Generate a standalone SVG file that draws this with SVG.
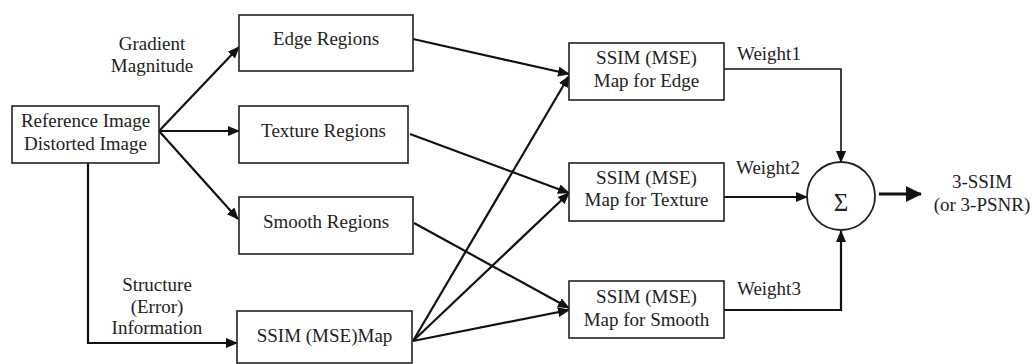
<svg xmlns="http://www.w3.org/2000/svg" width="1032" height="364" viewBox="0 0 1032 364">
<style>
.box{fill:#fff;stroke:#222;stroke-width:1.6}
text{font-family:'Liberation Serif','Times New Roman','DejaVu Serif',serif;font-size:19px;fill:#222}
.t{text-anchor:middle}
.sig{font-size:25px}
.c{fill:none;stroke:#111;stroke-width:2.2}
.cw{fill:none;stroke:#111;stroke-width:1.6}
</style>
<defs>
<marker id="ah" markerUnits="userSpaceOnUse" markerWidth="12" markerHeight="10" refX="11" refY="5" orient="auto">
<path d="M0,0 L12,5 L0,10 z" fill="#111"/>
</marker>
<marker id="big" markerUnits="userSpaceOnUse" markerWidth="16" markerHeight="16" refX="15" refY="8" orient="auto">
<path d="M0,0 L16,8 L0,16 z" fill="#111"/>
</marker>
</defs>
<rect width="1032" height="364" fill="#fff"/>
<g id="connectors">
<path class="c" d="M159,131 L239,47" marker-end="url(#ah)"/>
<path class="c" d="M159,131 L239,131" marker-end="url(#ah)"/>
<path class="c" d="M159,131 L238,219" marker-end="url(#ah)"/>
<path class="c" d="M88,163 L88,343 L237,343" marker-end="url(#ah)"/>
<path class="c" d="M413,39 L569,74" marker-end="url(#ah)"/>
<path class="c" d="M410,134 L569,193" marker-end="url(#ah)"/>
<path class="c" d="M414,223 L569,308" marker-end="url(#ah)"/>
<path class="c" d="M413,341 L569,76" marker-end="url(#ah)"/>
<path class="c" d="M413,341 L569,193" marker-end="url(#ah)"/>
<path class="c" d="M413,341 L569,310" marker-end="url(#ah)"/>
<path class="cw" d="M724,69 L841,69 L841,162" marker-end="url(#ah)"/>
<path class="c" d="M724,197 L807,197" marker-end="url(#ah)"/>
<path class="c" d="M724,310 L841,310 L841,231" marker-end="url(#ah)"/>
<path d="M879,194 L921,194" stroke="#111" stroke-width="3" fill="none" marker-end="url(#big)"/>
</g>
<g id="input">
<rect class="box" x="12" y="106" width="147" height="57"/>
<text class="t" x="85.5" y="127">Reference Image</text>
<text class="t" x="85.5" y="150">Distorted Image</text>
</g>
<g id="label-gradient">
<text class="t" x="152" y="50">Gradient</text>
<text class="t" x="152" y="72">Magnitude</text>
</g>
<g id="label-structure">
<text class="t" x="157" y="291">Structure</text>
<text class="t" x="157" y="313">(Error)</text>
<text class="t" x="157" y="334">Information</text>
</g>
<g id="edge-regions">
<rect class="box" x="239" y="15" width="174" height="56"/>
<text class="t" x="326" y="45">Edge Regions</text>
</g>
<g id="texture-regions">
<rect class="box" x="239" y="106" width="169" height="57"/>
<text class="t" x="323.5" y="137">Texture Regions</text>
</g>
<g id="smooth-regions">
<rect class="box" x="239" y="197" width="174" height="57"/>
<text class="t" x="326" y="228">Smooth Regions</text>
</g>
<g id="ssim-map">
<rect class="box" x="237" y="311" width="175" height="52"/>
<text class="t" x="324.5" y="342">SSIM (MSE)Map</text>
</g>
<g id="map-edge">
<rect class="box" x="569" y="43" width="155" height="57"/>
<text class="t" x="646.5" y="64">SSIM (MSE)</text>
<text class="t" x="646.5" y="87">Map for Edge</text>
</g>
<g id="map-texture">
<rect class="box" x="569" y="163" width="155" height="58"/>
<text class="t" x="646.5" y="184">SSIM (MSE)</text>
<text class="t" x="646.5" y="206">Map for Texture</text>
</g>
<g id="map-smooth">
<rect class="box" x="569" y="281" width="155" height="57"/>
<text class="t" x="646.5" y="303">SSIM (MSE)</text>
<text class="t" x="646.5" y="326">Map for Smooth</text>
</g>
<g id="weights">
<text x="737" y="60">Weight1</text>
<text x="736" y="174">Weight2</text>
<text x="737" y="295">Weight3</text>
</g>
<g id="sum">
<circle cx="841" cy="196" r="34" fill="#fff" stroke="#222" stroke-width="1.8"/>
<text class="t sig" x="841" y="211">Σ</text>
</g>
<g id="output">
<text class="t" x="982" y="188">3-SSIM</text>
<text class="t" x="982" y="211">(or 3-PSNR)</text>
</g>
</svg>
